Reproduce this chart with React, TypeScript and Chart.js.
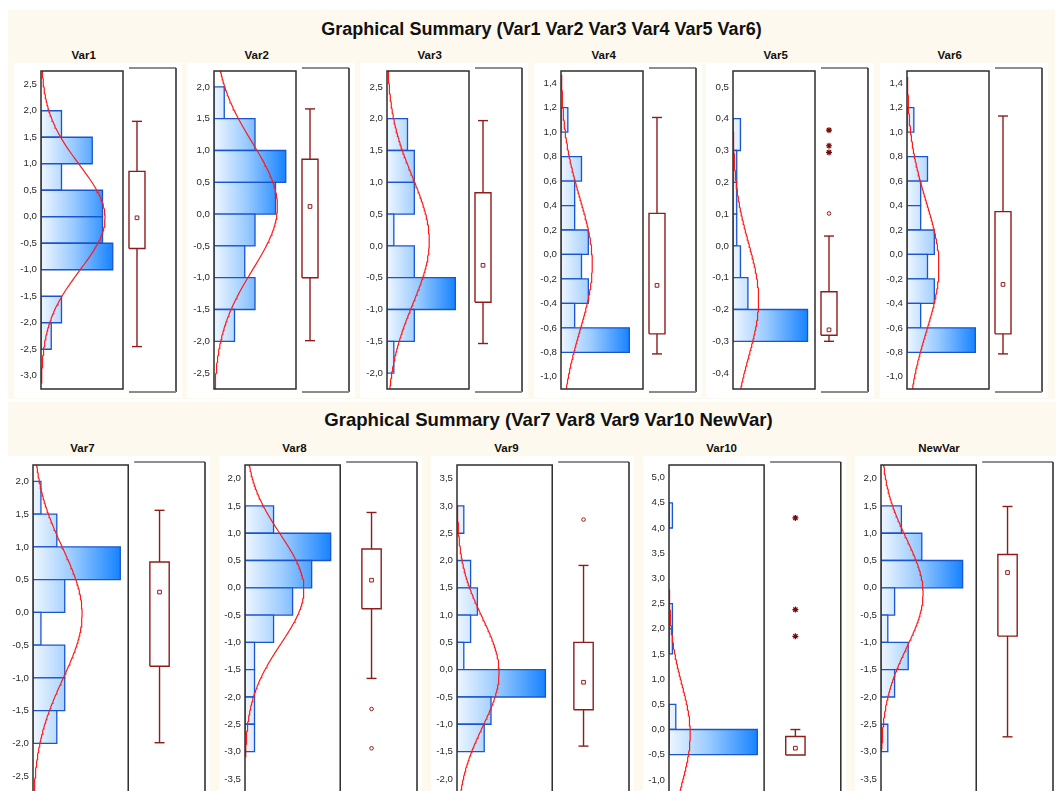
import React, { useEffect, useRef } from "react";
import { Chart, registerables } from "chart.js";

Chart.register(...registerables);

const FONT = '"Liberation Sans", Arial, Helvetica, sans-serif';
const CREAM = "#FEF9EE";
const MAROON = "#8E1C1C";
const BAR_EDGE = "#1A55D0";
const CURVE = "#FF1A1A";

const row1Title = "Graphical Summary (Var1 Var2 Var3 Var4 Var5 Var6)";
const row2Title = "Graphical Summary (Var7 Var8 Var9 Var10 NewVar)";

// ---------- Var1 ----------
const var1Range = [-3.25, 2.75];
const var1Ticks = [-3.0, -2.5, -2.0, -1.5, -1.0, -0.5, 0.0, 0.5, 1.0, 1.5, 2.0, 2.5];
const var1Edges = [-2.5, -2.0, -1.5, -1.0, -0.5, 0.0, 0.5, 1.0, 1.5, 2.0];
const var1Counts = [1, 2, 0, 7, 6, 6, 2, 5, 2];
const var1CountMax = 8;
const var1Fit = [-0.02, 0.99];
const var1FitSpan = [-3.14, 2.75];
const var1Box = [-2.45, -0.6, 0.857, 1.8];
const var1Mean = -0.02;
const var1Circles: number[] = [];
const var1Stars: number[] = [];

// ---------- Var2 ----------
const var2Range = [-2.75, 2.25];
const var2Ticks = [-2.5, -2.0, -1.5, -1.0, -0.5, 0.0, 0.5, 1.0, 1.5, 2.0];
const var2Edges = [-2.0, -1.5, -1.0, -0.5, 0.0, 0.5, 1.0, 1.5, 2.0];
const var2Counts = [2, 4, 3, 4, 6, 7, 4, 1];
const var2CountMax = 8;
const var2Fit = [0.12, 1.0];
const var2FitSpan = [-2.75, 2.25];
const var2Box = [-1.99, -1.0, 0.862, 1.654];
const var2Mean = 0.12;
const var2Circles: number[] = [];
const var2Stars: number[] = [];

// ---------- Var3 ----------
const var3Range = [-2.25, 2.75];
const var3Ticks = [-2.0, -1.5, -1.0, -0.5, 0.0, 0.5, 1.0, 1.5, 2.0, 2.5];
const var3Edges = [-2.0, -1.5, -1.0, -0.5, 0.0, 0.5, 1.0, 1.5, 2.0];
const var3Counts = [1, 4, 10, 4, 1, 4, 4, 3];
const var3CountMax = 12;
const var3Fit = [0.08, 1.0];
const var3FitSpan = [-2.25, 2.75];
const var3Box = [-1.535, -0.885, 0.836, 1.97];
const var3Mean = -0.305;
const var3Circles: number[] = [];
const var3Stars: number[] = [];

// ---------- Var4 ----------
const var4Range = [-1.1, 1.5];
const var4Ticks = [-1.0, -0.8, -0.6, -0.4, -0.2, 0.0, 0.2, 0.4, 0.6, 0.8, 1.0, 1.2, 1.4];
const var4Edges = [-0.8, -0.6, -0.4, -0.2, 0.0, 0.2, 0.4, 0.6, 0.8, 1.0, 1.2];
const var4Counts = [10, 2, 4, 3, 4, 2, 2, 3, 0, 1];
const var4CountMax = 12;
const var4Fit = [-0.08, 0.54];
const var4FitSpan = [-1.1, 1.47];
const var4Box = [-0.813, -0.649, 0.336, 1.12];
const var4Mean = -0.253;
const var4Circles: number[] = [];
const var4Stars: number[] = [];

// ---------- Var5 ----------
const var5Range = [-0.45, 0.55];
const var5Ticks = [-0.4, -0.3, -0.2, -0.1, 0.0, 0.1, 0.2, 0.3, 0.4, 0.5];
const var5Edges = [-0.3, -0.2, -0.1, 0.0, 0.1, 0.2, 0.3, 0.4];
const var5Counts = [20, 4, 2, 1, 1, 1, 2];
const var5CountMax = 22;
const var5Fit = [-0.17, 0.18];
const var5FitSpan = [-0.45, 0.36];
const var5Box = [-0.3, -0.281, -0.144, 0.031];
const var5Mean = -0.264;
const var5Circles = [0.102];
const var5Stars = [0.294, 0.315, 0.364];

// ---------- Var6 ----------
const var6Range = [-1.1, 1.5];
const var6Ticks = [-1.0, -0.8, -0.6, -0.4, -0.2, 0.0, 0.2, 0.4, 0.6, 0.8, 1.0, 1.2, 1.4];
const var6Edges = [-0.8, -0.6, -0.4, -0.2, 0.0, 0.2, 0.4, 0.6, 0.8, 1.0, 1.2];
const var6Counts = [10, 2, 4, 3, 4, 2, 2, 3, 0, 1];
const var6CountMax = 12;
const var6Fit = [-0.1, 0.53];
const var6FitSpan = [-1.1, 1.45];
const var6Box = [-0.813, -0.649, 0.35, 1.132];
const var6Mean = -0.245;
const var6Circles: number[] = [];
const var6Stars: number[] = [];

// ---------- Var7 ----------
const var7Range = [-2.75, 2.25];
const var7Ticks = [-2.5, -2.0, -1.5, -1.0, -0.5, 0.0, 0.5, 1.0, 1.5, 2.0];
const var7Edges = [-2.0, -1.5, -1.0, -0.5, 0.0, 0.5, 1.0, 1.5, 2.0];
const var7Counts = [3, 4, 4, 1, 4, 11, 3, 1];
const var7CountMax = 12;
const var7Fit = [-0.02, 1.0];
const var7FitSpan = [-2.75, 2.25];
const var7Box = [-1.99, -0.822, 0.769, 1.558];
const var7Mean = 0.31;
const var7Circles: number[] = [];
const var7Stars: number[] = [];

// ---------- Var8 ----------
const var8Range = [-3.75, 2.25];
const var8Ticks = [-3.5, -3.0, -2.5, -2.0, -1.5, -1.0, -0.5, 0.0, 0.5, 1.0, 1.5, 2.0];
const var8Edges = [-3.0, -2.5, -2.0, -1.5, -1.0, -0.5, 0.0, 0.5, 1.0, 1.5];
const var8Counts = [1, 1, 1, 1, 3, 5, 7, 9, 3];
const var8CountMax = 10;
const var8Fit = [-0.03, 1.0];
const var8FitSpan = [-3.1, 2.25];
const var8Box = [-1.66, -0.383, 0.71, 1.38];
const var8Mean = 0.14;
const var8Circles = [-2.22, -2.94];
const var8Stars: number[] = [];

// ---------- Var9 ----------
const var9Range = [-2.25, 3.75];
const var9Ticks = [-2.0, -1.5, -1.0, -0.5, 0.0, 0.5, 1.0, 1.5, 2.0, 2.5, 3.0, 3.5];
const var9Edges = [-1.5, -1.0, -0.5, 0.0, 0.5, 1.0, 1.5, 2.0, 2.5, 3.0];
const var9Counts = [4, 5, 13, 1, 2, 3, 2, 0, 1];
const var9CountMax = 14;
const var9Fit = [-0.05, 1.0];
const var9FitSpan = [-2.25, 3.0];
const var9Box = [-1.4, -0.735, 0.5, 1.91];
const var9Mean = -0.23;
const var9Circles = [2.75];
const var9Stars: number[] = [];

// ---------- Var10 ----------
const var10Range = [-1.25, 5.25];
const var10Ticks = [-1.0, -0.5, 0.0, 0.5, 1.0, 1.5, 2.0, 2.5, 3.0, 3.5, 4.0, 4.5, 5.0];
const var10Edges = [-0.5, 0.0, 0.5, 1.0, 1.5, 2.0, 2.5, 3.0, 3.5, 4.0, 4.5];
const var10Counts = [26, 2, 0, 0, 1, 1, 0, 0, 0, 1];
const var10CountMax = 28;
const var10Fit = [-0.09, 0.99];
const var10FitSpan = [-1.25, 2.78];
const var10Box = [-0.505, -0.505, -0.14, 0.0];
const var10Mean = -0.37;
const var10Circles: number[] = [];
const var10Stars = [1.85, 2.38, 4.2];

// ---------- NewVar ----------
const newVarRange = [-3.75, 2.25];
const newVarTicks = [-3.5, -3.0, -2.5, -2.0, -1.5, -1.0, -0.5, 0.0, 0.5, 1.0, 1.5, 2.0];
const newVarEdges = [-3.0, -2.5, -2.0, -1.5, -1.0, -0.5, 0.0, 0.5, 1.0, 1.5];
const newVarCounts = [1, 0, 2, 4, 1, 2, 12, 6, 3];
const newVarCountMax = 14;
const newVarFit = [-0.1, 1.0];
const newVarFitSpan = [-2.95, 2.25];
const newVarBox = [-2.73, -0.885, 0.61, 1.49];
const newVarMean = 0.28;
const newVarCircles: number[] = [];
const newVarStars: number[] = [];

type Spec = {
  name: string;
  range: number[];
  ticks: number[];
  edges: number[];
  counts: number[];
  countMax: number;
  fit: number[];
  fitSpan: number[];
  box: number[];
  mean: number;
  circles: number[];
  stars: number[];
};

const row1Specs: Spec[] = [
  { name: "Var1", range: var1Range, ticks: var1Ticks, edges: var1Edges, counts: var1Counts, countMax: var1CountMax, fit: var1Fit, fitSpan: var1FitSpan, box: var1Box, mean: var1Mean, circles: var1Circles, stars: var1Stars },
  { name: "Var2", range: var2Range, ticks: var2Ticks, edges: var2Edges, counts: var2Counts, countMax: var2CountMax, fit: var2Fit, fitSpan: var2FitSpan, box: var2Box, mean: var2Mean, circles: var2Circles, stars: var2Stars },
  { name: "Var3", range: var3Range, ticks: var3Ticks, edges: var3Edges, counts: var3Counts, countMax: var3CountMax, fit: var3Fit, fitSpan: var3FitSpan, box: var3Box, mean: var3Mean, circles: var3Circles, stars: var3Stars },
  { name: "Var4", range: var4Range, ticks: var4Ticks, edges: var4Edges, counts: var4Counts, countMax: var4CountMax, fit: var4Fit, fitSpan: var4FitSpan, box: var4Box, mean: var4Mean, circles: var4Circles, stars: var4Stars },
  { name: "Var5", range: var5Range, ticks: var5Ticks, edges: var5Edges, counts: var5Counts, countMax: var5CountMax, fit: var5Fit, fitSpan: var5FitSpan, box: var5Box, mean: var5Mean, circles: var5Circles, stars: var5Stars },
  { name: "Var6", range: var6Range, ticks: var6Ticks, edges: var6Edges, counts: var6Counts, countMax: var6CountMax, fit: var6Fit, fitSpan: var6FitSpan, box: var6Box, mean: var6Mean, circles: var6Circles, stars: var6Stars },
];

const row2Specs: Spec[] = [
  { name: "Var7", range: var7Range, ticks: var7Ticks, edges: var7Edges, counts: var7Counts, countMax: var7CountMax, fit: var7Fit, fitSpan: var7FitSpan, box: var7Box, mean: var7Mean, circles: var7Circles, stars: var7Stars },
  { name: "Var8", range: var8Range, ticks: var8Ticks, edges: var8Edges, counts: var8Counts, countMax: var8CountMax, fit: var8Fit, fitSpan: var8FitSpan, box: var8Box, mean: var8Mean, circles: var8Circles, stars: var8Stars },
  { name: "Var9", range: var9Range, ticks: var9Ticks, edges: var9Edges, counts: var9Counts, countMax: var9CountMax, fit: var9Fit, fitSpan: var9FitSpan, box: var9Box, mean: var9Mean, circles: var9Circles, stars: var9Stars },
  { name: "Var10", range: var10Range, ticks: var10Ticks, edges: var10Edges, counts: var10Counts, countMax: var10CountMax, fit: var10Fit, fitSpan: var10FitSpan, box: var10Box, mean: var10Mean, circles: var10Circles, stars: var10Stars },
  { name: "NewVar", range: newVarRange, ticks: newVarTicks, edges: newVarEdges, counts: newVarCounts, countMax: newVarCountMax, fit: newVarFit, fitSpan: newVarFitSpan, box: newVarBox, mean: newVarMean, circles: newVarCircles, stars: newVarStars },
];

type RowLayout = {
  top: number; height: number; padTop: number; padBottom: number;
  axisW: number; histW: number; gap: number; boxW: number; padRight: number;
  boxCenter: number; boxHalf: number; capHalf: number; frameOut: number;
  lefts: number[]; subDx: number; subTop: number;
};

const ROW1: RowLayout = {
  top: 63, height: 335, padTop: 8, padBottom: 9,
  axisW: 27, histW: 82, gap: 6, boxW: 47, padRight: 6,
  boxCenter: 8, boxHalf: 8, capHalf: 5, frameOut: 3,
  lefts: [41, 214, 387, 561, 733, 907], subDx: 30.5, subTop: 48.5,
};
const ROW2: RowLayout = {
  top: 456, height: 346, padTop: 9, padBottom: 9.5,
  axisW: 26, histW: 95.5, gap: 6, boxW: 71, padRight: 4.5,
  boxCenter: 25.4, boxHalf: 9.7, capHalf: 5, frameOut: 3,
  lefts: [33, 245, 457, 669, 881], subDx: 37.3, subTop: 442,
};

const framePlugin = {
  id: "frames",
  afterDatasetsDraw(chart: any, _args: any, opts: any) {
    const { ctx, chartArea: a, scales } = chart;
    if (!a) return;
    const hx0 = scales.x.getPixelForValue(0);
    const hx1 = scales.x.getPixelForValue(opts.countMax);
    ctx.save();
    ctx.strokeStyle = "#2E2E2E";
    ctx.lineWidth = 1.5;
    ctx.strokeRect(hx0, a.top, hx1 - hx0, a.bottom - a.top);
    const bx0 = scales.xb.getPixelForValue(0);
    const bx1 = scales.xb.getPixelForValue(1);
    const t = a.top - opts.out;
    const b = a.bottom + opts.out;
    ctx.lineWidth = 1.2;
    ctx.strokeStyle = "#1E1E1E";
    ctx.beginPath();
    ctx.moveTo(bx0, t);
    ctx.lineTo(bx1, t);
    ctx.stroke();
    ctx.lineWidth = 1.6;
    ctx.strokeStyle = "#333333";
    ctx.beginPath();
    ctx.moveTo(bx1, t);
    ctx.lineTo(bx1, b);
    ctx.stroke();
    ctx.lineWidth = 2;
    ctx.strokeStyle = "#8C8C8C";
    ctx.beginPath();
    ctx.moveTo(bx0, b);
    ctx.lineTo(bx1, b);
    ctx.stroke();
    ctx.restore();
  },
};

function fmt(v: number) {
  return Number(v).toFixed(1).replace(".", ",");
}

function buildConfig(s: Spec, r: RowLayout): any {
  const totalW = r.histW + r.gap + r.boxW;
  const xMax = (s.countMax * totalW) / r.histW;
  const xbMin = -(r.histW + r.gap) / r.boxW;
  const c = r.boxCenter / r.boxW;
  const hw = r.boxHalf / r.boxW;
  const cw = r.capHalf / r.boxW;
  const binW = s.edges[1] - s.edges[0];
  const n = s.counts.reduce((p, q) => p + q, 0);
  const peak = Math.max(...s.counts);

  const gradient = (context: any) => {
    const chart = context.chart;
    if (!chart.chartArea || !chart.scales.x) return "rgba(120,180,255,0.6)";
    const x0 = chart.scales.x.getPixelForValue(0);
    const x1 = chart.scales.x.getPixelForValue(peak);
    const g = chart.ctx.createLinearGradient(x0, 0, x1, 0);
    g.addColorStop(0, "#EEF6FF");
    g.addColorStop(0.45, "#9ACBFF");
    g.addColorStop(1, "#1783FF");
    return g;
  };

  const datasets: any[] = [];

  // fitted normal curve (scaled to counts)
  const curve: { x: number; y: number }[] = [];
  const steps = 180;
  const [mu, sd] = s.fit;
  for (let i = 0; i <= steps; i++) {
    const y = s.fitSpan[0] + ((s.fitSpan[1] - s.fitSpan[0]) * i) / steps;
    const z = (y - mu) / sd;
    curve.push({ x: (n * binW * Math.exp(-0.5 * z * z)) / (sd * Math.sqrt(2 * Math.PI)), y });
  }
  datasets.push({
    data: curve, xAxisID: "x", yAxisID: "y", borderColor: CURVE, borderWidth: 1.2,
    pointRadius: 0, pointHoverRadius: 0, fill: false, tension: 0, order: 0,
  });

  // box plot
  const [lo, q1, q3, hi] = s.box;
  const seg = (pts: any[]) => ({
    data: pts, xAxisID: "xb", yAxisID: "y", borderColor: MAROON, borderWidth: 1.4,
    pointRadius: 0, pointHoverRadius: 0, fill: false, tension: 0, order: 1, clip: false,
    borderJoinStyle: "miter",
  });
  datasets.push(seg([
    { x: c - hw, y: q1 }, { x: c + hw, y: q1 }, { x: c + hw, y: q3 }, { x: c - hw, y: q3 }, { x: c - hw, y: q1 },
  ]));
  if (hi > q3) {
    datasets.push(seg([{ x: c, y: q3 }, { x: c, y: hi }]));
    datasets.push(seg([{ x: c - cw, y: hi }, { x: c + cw, y: hi }]));
  }
  if (lo < q1) {
    datasets.push(seg([{ x: c, y: q1 }, { x: c, y: lo }]));
    datasets.push(seg([{ x: c - cw, y: lo }, { x: c + cw, y: lo }]));
  }
  datasets.push({
    data: [{ x: c, y: s.mean }], xAxisID: "xb", yAxisID: "y", showLine: false,
    pointStyle: "rect", pointRadius: 2.6, pointBorderWidth: 1, pointBorderColor: MAROON,
    pointBackgroundColor: "#FFFFFF", order: 1, clip: false,
  });
  if (s.circles.length) {
    datasets.push({
      data: s.circles.map((v) => ({ x: c, y: v })), xAxisID: "xb", yAxisID: "y", showLine: false,
      pointStyle: "circle", pointRadius: 1.8, pointBorderWidth: 1, pointBorderColor: MAROON,
      pointBackgroundColor: "#FFFFFF", order: 1, clip: false,
    });
  }
  if (s.stars.length) {
    datasets.push({
      data: s.stars.map((v) => ({ x: c, y: v })), xAxisID: "xb", yAxisID: "y", showLine: false,
      pointStyle: "star", pointRadius: 3, pointBorderWidth: 1.2, pointBorderColor: "#7A0A0A",
      pointBackgroundColor: "#7A0A0A", order: 1, clip: false,
    });
  }

  // histogram bars (horizontal)
  s.counts.forEach((cnt, i) => {
    if (!cnt) return;
    const y0 = s.edges[i];
    const y1 = s.edges[i + 1];
    datasets.push({
      data: [{ x: 0, y: y0 }, { x: cnt, y: y0 }, { x: cnt, y: y1 }, { x: 0, y: y1 }, { x: 0, y: y0 }],
      xAxisID: "x", yAxisID: "y", borderColor: BAR_EDGE, borderWidth: 1.3,
      backgroundColor: gradient, fill: "shape", pointRadius: 0, pointHoverRadius: 0,
      tension: 0, order: 5, borderJoinStyle: "miter",
    });
  });

  return {
    type: "line",
    data: { datasets },
    options: {
      animation: false,
      responsive: false,
      maintainAspectRatio: false,
      events: [],
      layout: { padding: { left: 0, right: r.padRight, top: r.padTop, bottom: r.padBottom } },
      plugins: {
        legend: { display: false },
        tooltip: { enabled: false },
        title: { display: false },
        frames: { countMax: s.countMax, out: r.frameOut },
      },
      scales: {
        x: { type: "linear", axis: "x", position: "bottom", display: false, min: 0, max: xMax },
        xb: { type: "linear", axis: "x", position: "bottom", display: false, min: xbMin, max: 1 },
        y: {
          type: "linear",
          position: "left",
          min: s.range[0],
          max: s.range[1],
          grid: { display: false, drawTicks: false },
          border: { display: false },
          ticks: {
            autoSkip: false,
            padding: 4,
            color: "#2A2A2A",
            font: { family: FONT, size: 9.7 },
            callback: (v: any) => fmt(v),
          },
          afterBuildTicks: (scale: any) => {
            scale.ticks = s.ticks.map((v) => ({ value: v }));
          },
          afterFit: (scale: any) => {
            scale.width = r.axisW;
            scale.paddingTop = 0;
            scale.paddingBottom = 0;
          },
        },
      },
    },
    plugins: [framePlugin],
  };
}

function VarChart({ spec, row, histLeft }: { spec: Spec; row: RowLayout; histLeft: number }) {
  const ref = useRef<HTMLCanvasElement>(null);
  const width = row.axisW + row.histW + row.gap + row.boxW + row.padRight;
  const height = row.height;
  useEffect(() => {
    const canvas = ref.current;
    if (!canvas) return;
    const chart = new Chart(canvas, buildConfig(spec, row));
    return () => chart.destroy();
  }, []);
  return (
    <canvas
      ref={ref}
      width={width}
      height={height}
      style={{
        position: "absolute",
        left: histLeft - row.axisW,
        top: row.top,
        width,
        height,
        background: "#FFFFFF",
      }}
    />
  );
}

function Subtitle({ text, left, top }: { text: string; left: number; top: number }) {
  return (
    <div
      style={{
        position: "absolute", left, top, fontSize: 11.5, lineHeight: "12px",
        fontWeight: "bold", color: "#111", whiteSpace: "nowrap",
      }}
    >
      {text}
    </div>
  );
}

function RowTitle({ text, cx, top, size }: { text: string; cx: number; top: number; size: number }) {
  return (
    <div
      style={{
        position: "absolute", left: cx - 320, width: 640, top, textAlign: "center",
        fontSize: size, lineHeight: `${size}px`, fontWeight: "bold", color: "#111", whiteSpace: "nowrap",
      }}
    >
      {text}
    </div>
  );
}

export default function App() {
  return (
    <div
      style={{
        position: "fixed", left: 0, top: 0, width: 1056, height: 791, overflow: "hidden",
        background: "#FFFFFF", fontFamily: FONT,
      }}
    >
      <div style={{ position: "absolute", left: 8, top: 10, width: 1047, height: 389, background: CREAM }} />
      <div style={{ position: "absolute", left: 8, top: 402, width: 1048, height: 400, background: CREAM }} />
      <RowTitle text={row1Title} cx={541.5} top={19.5} size={18} />
      <RowTitle text={row2Title} cx={548.5} top={410.5} size={18.6} />
      {row1Specs.map((s, i) => (
        <React.Fragment key={s.name}>
          <Subtitle text={s.name} left={ROW1.lefts[i] + ROW1.subDx} top={ROW1.subTop} />
          <VarChart spec={s} row={ROW1} histLeft={ROW1.lefts[i]} />
        </React.Fragment>
      ))}
      {row2Specs.map((s, i) => (
        <React.Fragment key={s.name}>
          <Subtitle text={s.name} left={ROW2.lefts[i] + ROW2.subDx} top={ROW2.subTop} />
          <VarChart spec={s} row={ROW2} histLeft={ROW2.lefts[i]} />
        </React.Fragment>
      ))}
    </div>
  );
}
